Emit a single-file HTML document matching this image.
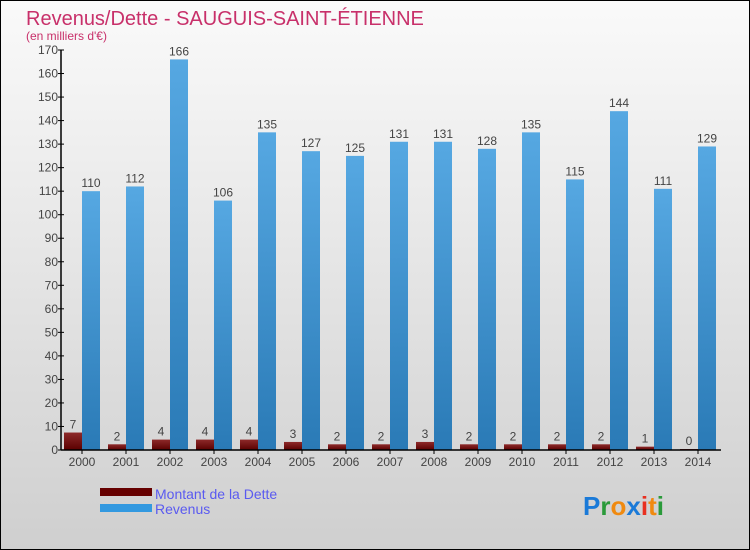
<!DOCTYPE html>
<html><head><meta charset="utf-8"><style>
body{margin:0}
#c{width:750px;height:550px;position:relative;overflow:hidden}
svg text{font-family:"Liberation Sans",sans-serif}
</style></head><body>
<div id="c">
<svg id="s" width="750" height="550" xmlns="http://www.w3.org/2000/svg">
<defs>
<linearGradient id="bg" x1="0" y1="0" x2="0" y2="1"><stop offset="0" stop-color="#fafafa"/><stop offset="1" stop-color="#cfcfcf"/></linearGradient>
<linearGradient id="rev" x1="0" y1="0" x2="0" y2="1"><stop offset="0" stop-color="#56a8e2"/><stop offset="1" stop-color="#2a7ab6"/></linearGradient>
<linearGradient id="debt" x1="0" y1="0" x2="0" y2="1"><stop offset="0" stop-color="#8e2a2a"/><stop offset="1" stop-color="#5a0000"/></linearGradient>
</defs>
<rect x="0.5" y="0.5" width="749" height="549" fill="url(#bg)" stroke="#000"/>
<text x="26" y="25" font-size="20" fill="#c8306a">Revenus/Dette - SAUGUIS-SAINT-ÉTIENNE</text>
<text x="26" y="40" font-size="12" fill="#c8306a">(en milliers d'€)</text>
<g id="g"></g>
<rect x="100" y="488" width="52" height="8" fill="#660000"/>
<text x="155" y="499" font-size="14" fill="#5a5af0">Montant de la Dette</text>
<rect x="100" y="504" width="52" height="8" fill="#3399e0"/>
<text x="155" y="514" font-size="14" fill="#5a5af0">Revenus</text>
<text x="583" y="515" font-size="26" font-weight="bold"><tspan fill="#1a7ad8">P</tspan><tspan fill="#2a9a3a">r</tspan><tspan fill="#f08a10">o</tspan><tspan fill="#1a7ad8">x</tspan><tspan fill="#e83020">i</tspan><tspan fill="#f08a10">t</tspan><tspan fill="#2a9a3a">i</tspan></text>
</svg></div>
<script>
const years=["2000","2001","2002","2003","2004","2005","2006","2007","2008","2009","2010","2011","2012","2013","2014"];
const debt=[7,2,4,4,4,3,2,2,3,2,2,2,2,1,0];
const revenue=[110,112,166,106,135,127,125,131,131,128,135,115,144,111,129];
const yTicks=[0,10,20,30,40,50,60,70,80,90,100,110,120,130,140,150,160,170];
const NS="http://www.w3.org/2000/svg";
const g=document.getElementById('g');
const x0=61,x1=721,yb=450,yt=50,ymax=170,slot=44,bw=18;
const y=v=>yb-(v/ymax)*(yb-yt);
const cx=i=>82+slot*i;
function mk(t,a){const e=document.createElementNS(NS,t);for(const k in a)e.setAttribute(k,a[k]);g.appendChild(e);return e;}
yTicks.forEach(v=>{
 const l=mk('line',{x1:x0-3,x2:x0+3,y1:y(v),y2:y(v),stroke:'#000'});
 
 
 const t=mk('text',{x:x0-3,y:y(v)+4,'font-size':12,fill:'#444','text-anchor':'end'});
 t.textContent=v;
 
 
});
years.forEach((yr,i)=>{
 const c=cx(i);
 const d=mk('rect',{x:c-bw,y:y(debt[i])-1,width:bw,height:yb-y(debt[i])+1,fill:'url(#debt)'});
 
 
 const r=mk('rect',{x:c,y:y(revenue[i]),width:bw,height:yb-y(revenue[i]),fill:'url(#rev)'});
 
 
 const dl=mk('text',{x:c-bw/2,y:y(debt[i])-5,'font-size':12,fill:'#444','text-anchor':'middle'});
 dl.textContent=debt[i];
 
 
 const rl=mk('text',{x:c+bw/2,y:y(revenue[i])-4,'font-size':12,fill:'#444','text-anchor':'middle'});
 rl.textContent=revenue[i];
 
 
 const tk=mk('line',{x1:c,x2:c,y1:yb,y2:yb+4,stroke:'#000'});
 
 
 const xl=mk('text',{x:c,y:yb+16,'font-size':12,fill:'#444','text-anchor':'middle'});
 xl.textContent=yr;
 
 
});
const ya=mk('line',{x1:x0,x2:x0,y1:yt,y2:yb,stroke:'#000','stroke-width':1.5});


const xa=mk('line',{x1:x0,x2:x1,y1:yb,y2:yb,stroke:'#000','stroke-width':1.5});


</script>
</body></html>
